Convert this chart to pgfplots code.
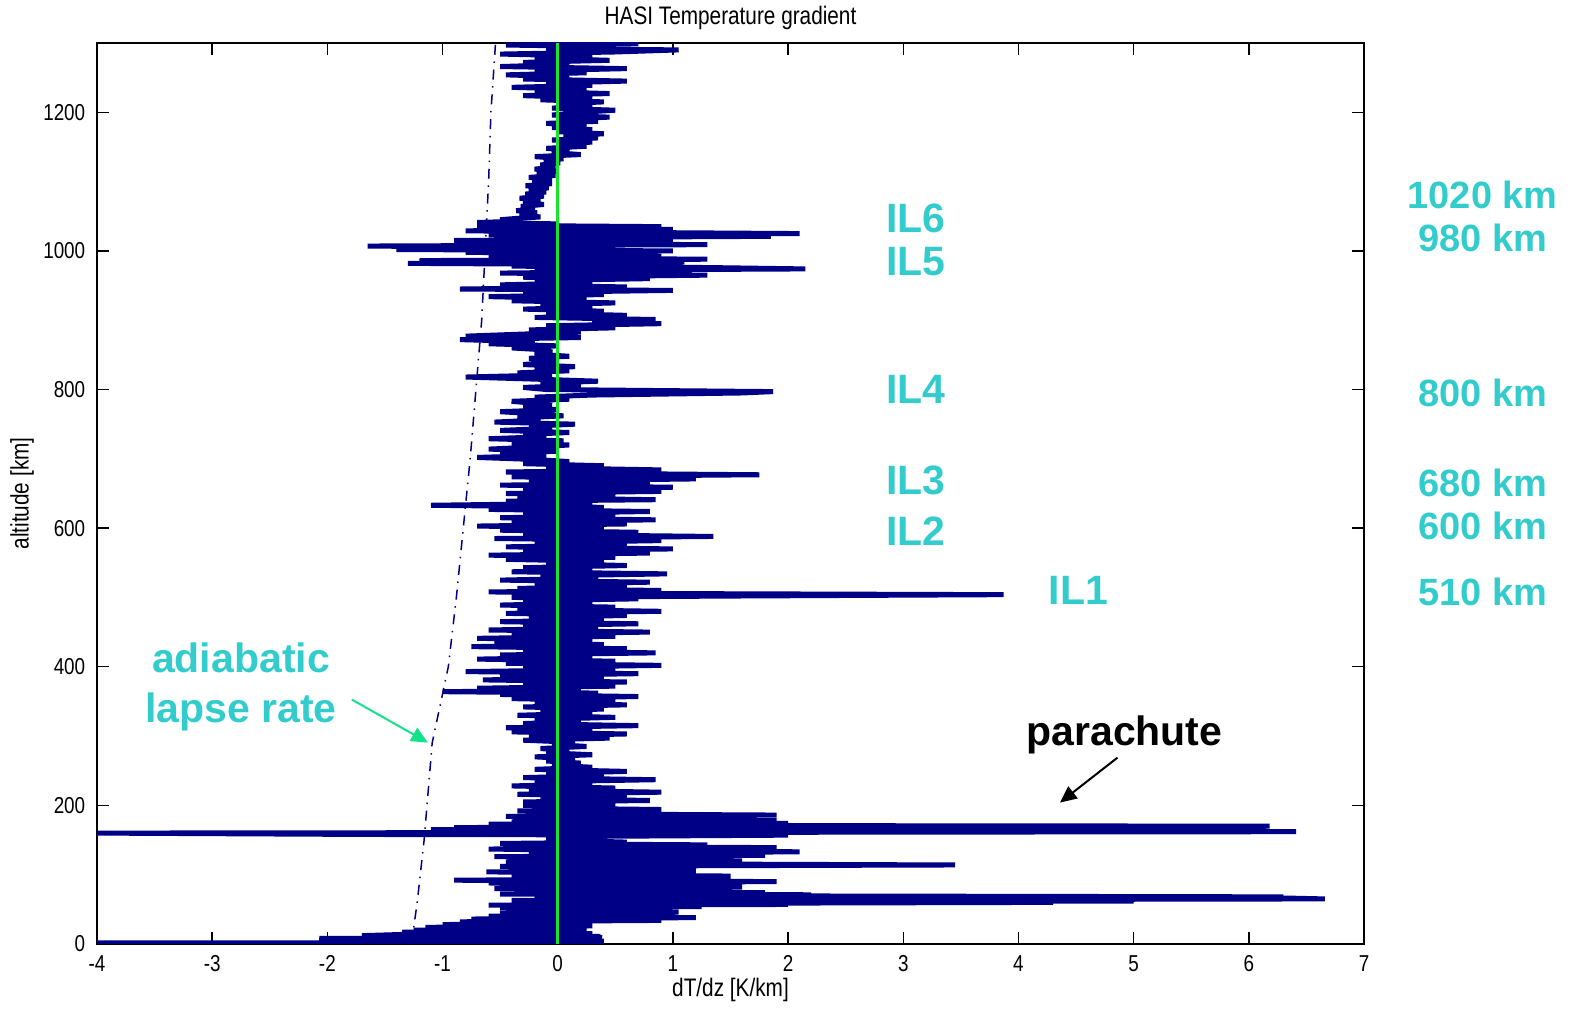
\documentclass[border=0pt]{standalone}
\usepackage{pgfplots}
\pgfplotsset{compat=1.18}
\usepackage{fontspec}
\setmainfont{Liberation Sans}
\newfontfamily\narrowfont[FakeStretch=0.82]{Liberation Sans}
\usetikzlibrary{arrows.meta}

\definecolor{matnavy}{RGB}{0,0,135}
\definecolor{matgreen}{RGB}{20,230,40}
\definecolor{ilcyan}{RGB}{51,204,204}
\definecolor{arrgreen}{RGB}{20,225,140}

\begin{document}
\begin{tikzpicture}
\begin{axis}[
  name=ax,
  scale only axis,
  width=380.1pt, height=270.3pt,
  xmin=-4, xmax=7, ymin=0, ymax=1300,
  xtick={-4,-3,...,7},
  ytick={0,200,...,1200},
  tick align=inside,
  major tick length=3.6pt,
  axis line style={line width=0.45pt},
  every tick/.style={black, line width=0.45pt},
  /pgf/number format/assume math mode=true,
  /pgf/number format/1000 sep={},
  ticklabel style={font=\narrowfont\fontsize{6.9}{8}\selectfont},
  xlabel={dT/dz [K/km]},
  xlabel style={at={(axis description cs:0.5,-0.0511)}, anchor=center, font=\narrowfont\fontsize{7.6}{9}\selectfont},
  ylabel={altitude [km]},
  ylabel style={at={(axis description cs:-0.0592,0.5)}, anchor=center, font=\narrowfont\fontsize{7.6}{9}\selectfont},
  clip mode=individual,
]
% temperature gradient profile
\addplot[matnavy, line width=1.5pt, line join=bevel] coordinates {
(0.0,0) (-4.0,0.5) (-4.0,1.5) (0.1,2) (0.4,4) (-1.75,5) (-2.07,8) (0.38,9) (0.35,11) (-1.7,12) (-1.3,14) (0.3,15) (-1.35,17) (0.1,18) (-1.25,20)
(0.25,22) (-1.15,24) (0.3,26) (-1.0,28) (0.2,30) (-0.85,32) (0.9,34) (-0.75,36) (1.2,38) (-0.6,40) (0.8,42) (-0.5,44) (1.05,46) (-0.45,48) (0.6,50) (-0.5,52) (1.25,54)
(-0.6,56) (2.0,57) (-0.3,58) (4.3,60) (0.1,61) (5.0,62) (-0.4,63) (6.66,65) (6.4,66) (0.0,67) (6.3,68) (3.1,69) (-0.2,70) (2.2,71) (-0.5,72) (1.8,74)
(-0.3,76) (1.4,78) (-0.55,80) (1.6,82) (-0.5,84) (0.8,86) (-0.6,88) (1.9,90) (-0.9,92) (0.9,94) (-0.4,96) (1.5,98) (-0.35,100)
(0.7,102) (-0.62,104) (1.2,106) (-0.3,108) (0.9,110) (-0.5,112) (3.45,114) (0.2,116) (-0.45,118) (1.6,120) (-0.2,122) (1.0,124) (-0.55,126) (1.8,128) (-0.25,130) (2.1,133) (0.2,135) (-0.6,137) (1.9,139) (-0.3,141) (1.3,143) (-0.5,145) (0.6,147) (-0.1,150)
(0.3,152) (0.0,155)
(2.0,157) (-1.67,158) (-4.0,160) (6.41,162) (5.5,163) (-1.1,165) (2.5,166) (-0.9,168) (6.18,170) (0.6,171) (-0.6,173) (2.0,174)
(-0.4,176) (1.9,178) (-0.3,180) (1.3,182) (-0.45,184) (1.9,186) (-0.2,188) (0.7,190) (-0.35,192) (0.9,194) (-0.1,196) (0.45,198) (-0.3,200)
(0.5,202) (-0.3,205) (0.8,207) (-0.15,210) (0.6,213) (-0.35,216) (0.9,219) (-0.25,222) (0.5,225) (-0.4,228) (0.3,231) (-0.2,234) (0.85,237) (-0.3,240) (0.4,243) (-0.1,246) (0.6,249) (-0.2,252) (0.3,255) (-0.05,258)
(0.2,261) (-0.1,264) (0.15,267) (-0.2,270) (0.3,273) (-0.1,276) (0.1,279) (-0.15,282) (0.25,285) (-0.05,288) (0.15,291) (-0.3,294) (0.45,297) (-0.25,300)
(0.6,303) (-0.4,306) (0.3,309) (-0.45,312) (0.7,315) (-0.3,318) (0.2,321) (-0.2,324) (0.5,327) (-0.35,330) (0.3,333) (-0.15,336) (0.4,339) (-0.3,342) (0.6,345) (-0.2,348) (0.5,351) (-0.4,354) (0.7,357) (-0.5,360)
(0.35,362) (-1.0,364) (0.2,366) (-0.7,369) (0.5,372) (-0.3,375) (0.6,378) (-0.65,381) (0.4,384) (-0.5,387) (0.7,390) (-0.8,393) (0.5,396) (-0.3,399) (0.9,402) (-0.45,405) (0.5,408) (-0.7,411) (0.3,414) (-0.5,417) (0.85,420) (-0.3,423) (0.6,426) (-0.75,429) (0.4,432) (-0.55,435) (0.3,438)
(-0.7,441) (0.5,444) (-0.4,447) (0.8,450) (-0.6,453) (0.35,456) (-0.3,459) (0.7,462) (-0.5,465) (0.4,468) (-0.25,471) (0.6,474) (-0.45,477) (0.9,480) (-0.35,483) (0.5,486) (-0.5,489) (0.3,492) (-0.3,495) (0.7,498)
(-0.4,500) (1.5,502) (3.87,504) (0.2,506) (-0.6,508) (0.9,510)
(-0.35,513) (0.6,516) (-0.2,519) (0.8,522) (-0.5,525) (0.35,528) (-0.15,531) (0.95,534) (-0.4,537) (0.3,540) (-0.3,543) (0.6,546) (-0.1,549) (0.4,552) (-0.45,555) (0.5,558)
(-0.6,561) (0.8,564) (-0.3,567) (1.0,570) (-0.45,573) (0.6,576) (-0.2,579) (0.9,582) (-0.55,585) (1.35,588) (-0.3,591) (0.7,594) (-0.5,597) (0.4,600)
(-0.7,603) (0.6,606) (-0.4,609) (0.85,612) (-0.5,615) (0.5,618) (-0.3,621) (0.8,624) (-0.6,627) (0.4,630) (-1.1,633) (0.3,636) (-0.45,639) (0.85,641)
(-0.35,644) (0.5,647) (-0.45,650) (0.9,653) (-0.3,656) (1.0,659) (-0.5,662) (0.8,665) (-0.25,668) (1.2,671) (-0.4,674) (1.75,677) (0.3,679) (-0.45,681) (0.9,684) (-0.1,687) (0.4,690) (-0.3,693) (0.1,696) (-0.2,699)
(-0.7,702) (-0.1,705) (-0.5,708) (0.0,711) (-0.6,714) (-0.2,717) (0.1,720)
(-0.4,723) (0.05,726) (-0.6,729) (-0.1,732) (-0.3,735) (0.1,738) (-0.5,741) (-0.05,744) (-0.25,747) (0.15,750) (-0.55,753) (-0.15,756) (-0.35,759) (0.05,762) (-0.2,765) (-0.5,768) (0.0,771) (-0.3,774) (-0.05,777) (-0.2,780)
(-0.4,783) (0.1,786) (-0.2,789) (0.3,792) (1.6,795) (1.87,797) (1.2,798) (-0.1,800)
(-0.3,803) (0.2,806) (-0.15,809) (0.35,812) (-0.2,815) (-0.8,818) (-0.05,821) (-0.35,824) (0.1,827) (-0.2,830) (0.15,833) (-0.3,836) (-0.1,839) (0.0,842) (-0.25,845) (0.1,848) (-0.2,851) (-0.05,854) (-0.1,857)
(-0.4,860) (0.0,863) (-0.6,866) (-0.2,869) (-0.85,872) (0.2,875) (-0.8,877) (-0.3,880)
(0.2,883) (-0.25,886) (0.5,889) (-0.1,892) (0.9,895) (0.3,898) (0.85,901) (-0.2,904) (0.6,907) (-0.1,910) (0.4,913) (-0.3,916) (0.3,919) (-0.15,922) (0.5,925) (-0.4,928) (0.25,931) (-0.6,934) (0.4,937) (-0.3,940)
(1.0,943) (-0.85,945) (0.6,948) (-0.5,951) (0.3,954) (-0.2,957) (0.8,960)
(-0.3,962) (1.3,965) (-0.5,968) (0.6,970) (-0.2,972) (2.15,974) (1.3,976) (-0.4,978) (0.8,980) (-1.3,982) (1.1,984) (-1.2,986) (1.3,988) (-0.4,990) (0.9,992) (-0.6,994) (0.2,996) (-0.8,998)
(1.0,1000) (-1.4,1002) (0.5,1004) (-1.65,1007) (1.3,1009) (-0.7,1011) (0.2,1013) (-0.9,1015) (1.0,1017) (-0.5,1019) (1.85,1021) (-0.6,1023) (2.1,1025) (0.3,1027) (-0.8,1029) (1.0,1031) (-0.5,1033) (0.9,1035) (-0.7,1037) (0.0,1039) (-0.7,1041) (-0.3,1043) (-0.5,1045)
(-0.35,1047) (-0.15,1049) (-0.33,1052) (-0.18,1055) (-0.36,1058) (-0.2,1061) (-0.32,1064) (-0.12,1067) (-0.3,1070) (-0.15,1073) (-0.33,1076) (-0.12,1079) (-0.28,1082) (-0.1,1085) (-0.25,1088) (-0.08,1091) (-0.28,1094) (-0.05,1097) (-0.22,1100) (-0.05,1103) (-0.25,1106) (-0.02,1109) (-0.18,1112) (0.0,1115) (-0.2,1118) (-0.02,1121) (-0.15,1124) (0.02,1127) (-0.12,1130) (0.05,1133) (-0.2,1136) (0.2,1139) (-0.05,1142) (0.1,1145) (-0.1,1148) (0.25,1151) (0.0,1154) (0.3,1157) (-0.05,1160) (0.35,1163) (0.05,1166) (0.4,1169) (0.0,1172) (0.3,1175) (-0.05,1178) (0.25,1181) (-0.1,1184) (0.35,1187) (0.0,1190) (0.45,1193) (-0.05,1196) (0.2,1200)
(0.5,1203) (-0.05,1206) (0.3,1209) (0.0,1212) (0.4,1215) (-0.15,1218) (0.3,1221) (-0.3,1224) (0.45,1227) (-0.2,1230) (0.25,1233) (-0.4,1236) (0.3,1239) (-0.1,1242) (0.6,1245) (-0.3,1248) (0.1,1251) (-0.45,1254) (0.25,1257) (-0.2,1260) (0.6,1263) (-0.5,1266) (0.1,1269) (-0.3,1272) (0.45,1275) (-0.2,1278) (0.3,1281) (-0.5,1284) (0.5,1287) (1.05,1290) (-0.1,1292) (0.4,1295) (-0.45,1297) (0.7,1299) (0.0,1300)
};
% adiabatic lapse rate
\addplot[matnavy, line width=0.45pt, dash dot] coordinates {
(-1.27,0) (-1.22,60) (-1.16,150) (-1.09,290) (-0.95,400) (-0.88,500) (-0.82,600) (-0.76,700) (-0.71,800) (-0.66,900) (-0.63,1000) (-0.60,1100) (-0.58,1200) (-0.54,1300)
};
% zero line
\addplot[matgreen, line width=0.9pt] coordinates {(0,0) (0,1300)};

% title
\node[anchor=center, yshift=7.5pt, font=\narrowfont\fontsize{7.6}{9}\selectfont] at (axis description cs:0.5,1) {HASI Temperature gradient};

% annotations
\begin{scope}[every node/.style={text=ilcyan, font=\bfseries\fontsize{12.3}{14}\selectfont, anchor=center}]
\node at (axis cs:3.11,1047.6) {IL6};
\node at (axis cs:3.11,984) {IL5};
\node at (axis cs:3.11,799.6) {IL4};
\node at (axis cs:3.11,668.4) {IL3};
\node at (axis cs:3.11,596.3) {IL2};
\node at (axis cs:4.52,509.8) {IL1};
\node[align=center, font=\bfseries\fontsize{12.3}{15}\selectfont] at (axis cs:-2.75,371.3) {adiabatic\\lapse rate};
\end{scope}
\begin{scope}[every node/.style={text=ilcyan, font=\bfseries\fontsize{11.4}{13}\selectfont, anchor=center}]
\node at (axis cs:8.03,1080.8) {1020 km};
\node at (axis cs:8.03,1018.7) {980 km};
\node at (axis cs:8.03,795.2) {800 km};
\node at (axis cs:8.03,665.4) {680 km};
\node at (axis cs:8.03,603.5) {600 km};
\node at (axis cs:8.03,508.3) {510 km};
\end{scope}
\draw[arrgreen, line width=0.6pt, -{Triangle[length=5pt,width=4.5pt]}] (axis cs:-1.787,352.6) -- (axis cs:-1.127,290.6);
\node[font=\bfseries\fontsize{12.3}{14}\selectfont, anchor=center] at (axis cs:4.92,302.1) {parachute};
\draw[black, line width=0.6pt, -{Triangle[length=5pt,width=4.5pt]}] (axis cs:4.86,268.9) -- (axis cs:4.36,204.0);
\end{axis}
\pgfresetboundingbox
\path ([shift={(-29.1pt,-20.7pt)}]ax.south west) rectangle ([shift={(66pt,12.9pt)}]ax.north east);
\end{tikzpicture}
\end{document}
